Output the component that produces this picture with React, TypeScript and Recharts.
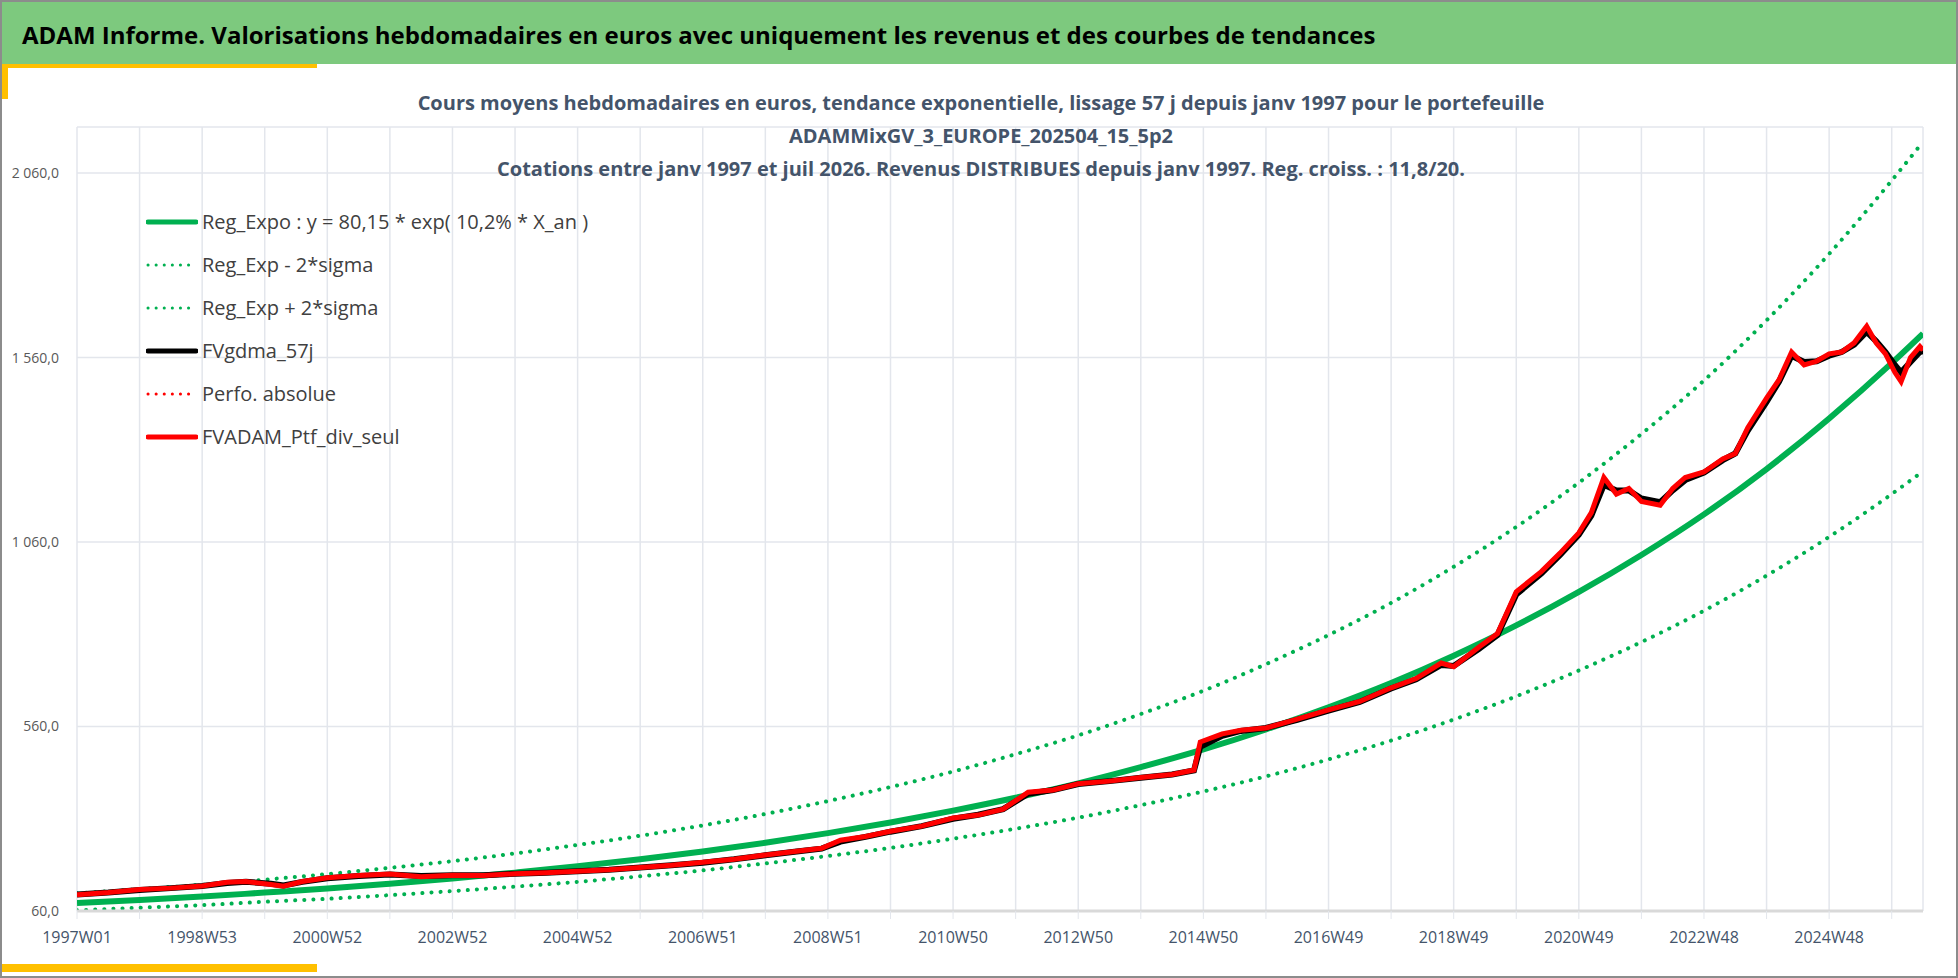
import { CartesianGrid, Line, LineChart, XAxis, YAxis } from 'recharts'

const W = 1958
const H = 978
const FONT = '"Liberation Sans Narrow", "Open Sans", sans-serif'

const Y_TICKS = [60, 560, 1060, 1560, 2060]
const Y_LABELS = ['60,0', '560,0', '1 060,0', '1 560,0', '2 060,0']
const X_TICKS = [
  1997, 1998, 1999, 2000, 2001, 2002, 2003, 2004, 2005, 2006, 2007, 2008, 2009, 2010, 2011,
  2012, 2013, 2014, 2015, 2016, 2017, 2018, 2019, 2020, 2021, 2022, 2023, 2024, 2025, 2026,
]
const X_LABELS = [
  '1997W01', '1998W53', '2000W52', '2002W52', '2004W52', '2006W51', '2008W51', '2010W50',
  '2012W50', '2014W50', '2016W49', '2018W49', '2020W49', '2022W48', '2024W48',
]

// trend lines, read per year
const TREND_X = [
  1997, 1998, 1999, 2000, 2001, 2002, 2003, 2004, 2005, 2006, 2007, 2008, 2009, 2010, 2011,
  2012, 2013, 2014, 2015, 2016, 2017, 2018, 2019, 2020, 2021, 2022, 2023, 2024, 2025, 2026, 2026.5,
]
const TREND = [
  82, 90, 99, 110, 121, 134, 148, 164, 181, 200, 221, 245, 271, 300, 332,
  367, 406, 450, 498, 552, 612, 678, 752, 834, 925, 1025, 1135, 1258, 1395, 1545, 1625,
]
const UPPER = [
  108, 119, 131, 145, 160, 177, 195, 216, 239, 264, 292, 323, 358, 396, 438,
  485, 536, 594, 657, 729, 808, 895, 993, 1101, 1221, 1353, 1498, 1661, 1841, 2040, 2145,
]
const LOWER = [
  62, 69, 76, 85, 93, 103, 114, 126, 139, 154, 170, 189, 209, 231, 256,
  283, 313, 347, 384, 425, 471, 522, 579, 642, 712, 789, 874, 969, 1074, 1190, 1252,
]

// portfolio (red) and its 57-day smoothing (black)
const PTF_X = [
  1997, 1997.5, 1998, 1998.5, 1999, 1999.4, 1999.7, 2000.1, 2000.3, 2000.6, 2001, 2001.5,
  2002, 2002.5, 2003, 2003.5, 2004, 2004.5, 2005, 2005.5, 2006, 2006.5, 2007, 2007.5,
  2008, 2008.5, 2008.9, 2009.2, 2009.6, 2010, 2010.5, 2011, 2011.4, 2011.8, 2012.2, 2012.6,
  2013, 2013.5, 2014, 2014.5, 2014.85, 2014.95, 2015.3, 2015.6, 2016, 2016.5, 2017, 2017.5,
  2018, 2018.4, 2018.8, 2019.0, 2019.4, 2019.7, 2020, 2020.4, 2020.7, 2021.0, 2021.2,
  2021.4, 2021.6, 2021.8, 2022.0, 2022.3, 2022.5, 2022.7, 2023.0, 2023.3, 2023.5, 2023.7,
  2024.0, 2024.2, 2024.4, 2024.6, 2024.8, 2025.0, 2025.2, 2025.4, 2025.6, 2025.75, 2025.9,
  2026.05, 2026.15, 2026.3, 2026.45, 2026.5,
]
const PTF = [
  104, 110, 118, 122, 128, 138, 140, 132, 127, 140, 150, 156,
  160, 153, 157, 156, 161, 164, 168, 172, 178, 184, 192, 200,
  212, 222, 230, 252, 262, 276, 290, 312, 320, 336, 382, 388,
  405, 412, 422, 430, 442, 518, 540, 550, 556, 580, 605, 628,
  665, 690, 732, 722, 775, 812, 925, 980, 1030, 1085, 1140,
  1235, 1190, 1205, 1170, 1160, 1205, 1235, 1250, 1285, 1300, 1370,
  1450, 1500, 1575, 1540, 1550, 1570, 1575, 1600, 1645, 1600, 1570,
  1520, 1495, 1560, 1590, 1580,
]
const SMOOTH = [
  105, 110, 117, 122, 128, 136, 139, 134, 129, 139, 149, 155,
  159, 155, 157, 157, 161, 164, 168, 172, 178, 184, 191, 200,
  211, 221, 229, 248, 261, 275, 290, 310, 321, 336, 378, 388,
  404, 412, 421, 430, 441, 505, 535, 548, 556, 578, 603, 627,
  663, 688, 727, 724, 770, 808, 918, 975, 1025, 1080, 1132,
  1215, 1200, 1200, 1178, 1168, 1200, 1228, 1248, 1282, 1300, 1362,
  1440, 1495, 1565, 1548, 1550, 1565, 1575, 1595, 1630, 1605, 1575,
  1540, 1520, 1548, 1575, 1578,
]

const toPoints = (xs: number[], ys: number[]) => xs.map((x, i) => ({ x, y: ys[i] }))

const LEGEND = [
  { label: 'Reg_Expo : y = 80,15 * exp( 10,2% *  X_an )', color: '#00B050', dash: false },
  { label: 'Reg_Exp - 2*sigma', color: '#00B050', dash: true },
  { label: 'Reg_Exp + 2*sigma', color: '#00B050', dash: true },
  { label: 'FVgdma_57j', color: '#000000', dash: false },
  { label: 'Perfo. absolue', color: '#FF0000', dash: true },
  { label: 'FVADAM_Ptf_div_seul', color: '#FF0000', dash: false },
]

function XTick(props: any) {
  const { x, y, payload } = props
  const idx = X_TICKS.indexOf(payload.value)
  if (idx % 2 !== 0) return null
  return (
    <text x={x} y={y + 22} textAnchor="middle" fontSize={16} fill="#44546A" fontFamily={FONT}>
      {X_LABELS[idx / 2]}
    </text>
  )
}

export default function App() {
  return (
    <div style={{ position: 'absolute', left: 0, top: 0, width: W, height: H, background: '#fff', overflow: 'hidden', fontFamily: FONT, boxSizing: 'border-box', border: '2px solid #8c8c8c' }}>
      <div style={{ position: 'absolute', left: 0, top: 0, width: W, height: 62, background: '#7DC97E' }} />
      <div style={{ position: 'absolute', left: 20, top: 16, fontSize: 24, fontWeight: 'bold', color: '#000' }}>
        ADAM Informe. Valorisations hebdomadaires en euros avec uniquement les revenus et des courbes de tendances
      </div>
      <div style={{ position: 'absolute', left: 0, top: 62, width: 315, height: 4, background: '#FFC000' }} />
      <div style={{ position: 'absolute', left: 0, top: 62, width: 6, height: 35, background: '#FFC000' }} />
      <div style={{ position: 'absolute', left: 0, top: 962, width: 315, height: 8, background: '#FFC000' }} />
      <div style={{ position: 'absolute', left: 0, top: 84, width: W, textAlign: 'center', fontSize: 20, fontWeight: 'bold', color: '#44546A', lineHeight: '33px', zIndex: 2 }}>
        <div>Cours moyens hebdomadaires  en euros, tendance exponentielle, lissage 57 j depuis janv 1997 pour le portefeuille</div>
        <div>ADAMMixGV_3_EUROPE_202504_15_5p2</div>
        <div>Cotations entre janv 1997 et juil 2026. Revenus DISTRIBUES depuis janv 1997. Reg. croiss. : 11,8/20.</div>
      </div>
      <div style={{ position: 'absolute', left: 144, top: 198, zIndex: 2 }}>
        {LEGEND.map((l) => (
          <div key={l.label} style={{ display: 'flex', alignItems: 'center', height: 43 }}>
            <svg width={52} height={10}>
              <line x1={2} y1={5} x2={50} y2={5} stroke={l.color} strokeWidth={l.dash ? 3 : 5} strokeLinecap="round" strokeDasharray={l.dash ? '0.1 8' : undefined} />
            </svg>
            <span style={{ fontSize: 20, color: '#404040', marginLeft: 4 }}>{l.label}</span>
          </div>
        ))}
      </div>
      <div style={{ position: 'absolute', left: 0, top: 0 }}>
        <LineChart width={W} height={H} margin={{ top: 125, right: 37, left: 0, bottom: 0 }}>
          <CartesianGrid stroke="#E3E6EC" strokeWidth={1.5} />
          <XAxis
            type="number"
            dataKey="x"
            domain={[1997, 2026.5]}
            ticks={X_TICKS}
            allowDataOverflow
            height={69}
            tick={<XTick />}
            tickSize={8}
            tickLine={{ stroke: '#E3E6EC' }}
            axisLine={{ stroke: '#D9D9D9', strokeWidth: 3 }}
          />
          <YAxis
            type="number"
            dataKey="y"
            domain={[60, 2185]}
            ticks={Y_TICKS}
            allowDataOverflow
            width={75}
            axisLine={false}
            tickLine={false}
            tickMargin={12}
            tickFormatter={(v: number) => Y_LABELS[Y_TICKS.indexOf(v)]}
            tick={{ fontSize: 14, fill: '#595959', fontFamily: FONT }}
          />
          <Line data={toPoints(TREND_X, UPPER)} dataKey="y" stroke="#00B050" strokeWidth={4} strokeDasharray="0.1 9" strokeLinecap="round" dot={false} type="monotone" isAnimationActive={false} />
          <Line data={toPoints(TREND_X, LOWER)} dataKey="y" stroke="#00B050" strokeWidth={4} strokeDasharray="0.1 9" strokeLinecap="round" dot={false} type="monotone" isAnimationActive={false} />
          <Line data={toPoints(TREND_X, TREND)} dataKey="y" stroke="#00B050" strokeWidth={6} dot={false} type="monotone" isAnimationActive={false} />
          <Line data={toPoints(PTF_X, SMOOTH)} dataKey="y" stroke="#000000" strokeWidth={6} dot={false} type="linear" isAnimationActive={false} />
          <Line data={toPoints(PTF_X, PTF)} dataKey="y" stroke="#FF0000" strokeWidth={5} dot={false} type="linear" isAnimationActive={false} />
        </LineChart>
      </div>
    </div>
  )
}
